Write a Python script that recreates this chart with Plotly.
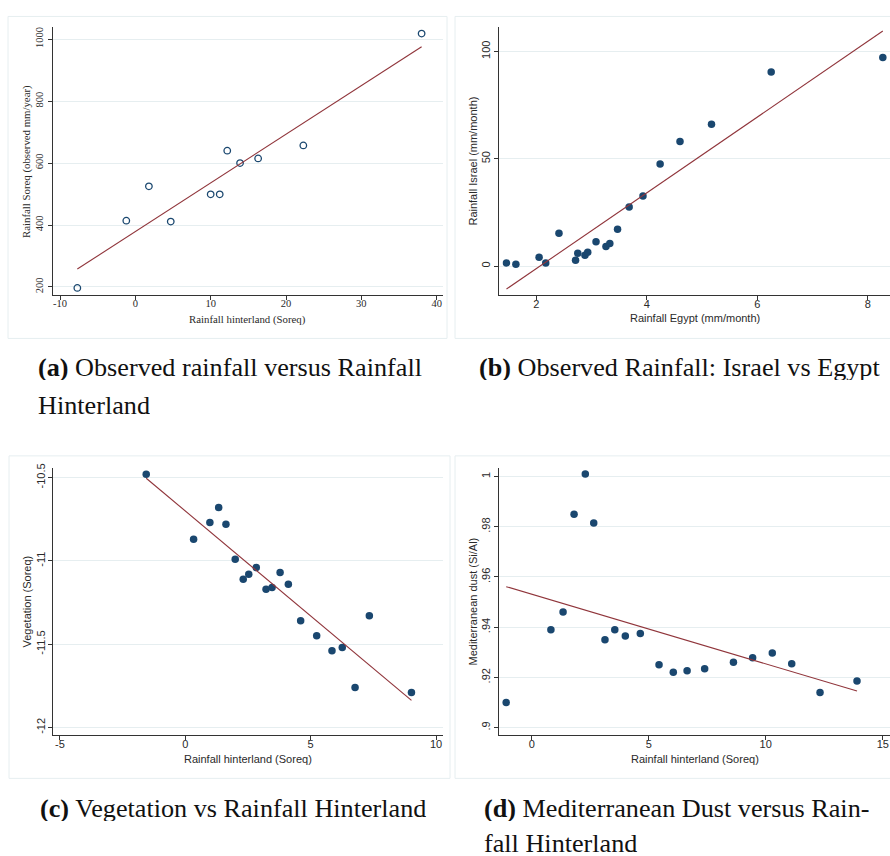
import numpy as np
import plotly.graph_objects as go

W, H = 890, 856

# ---------------- data ----------------
# (a) Observed rainfall versus Rainfall Hinterland
a_x = [-7.7, -1.2, 1.8, 4.7, 10.0, 11.2, 12.2, 13.9, 16.3, 22.3, 38.0]
a_y = [197, 414, 525, 411, 499, 499, 640, 600, 615, 657, 1018]

# (b) Observed Rainfall: Israel vs Egypt
b_x = [1.46, 1.63, 2.05, 2.17, 2.41, 2.71, 2.75, 2.88, 2.93, 3.08,
       3.26, 3.33, 3.47, 3.68, 3.93, 4.24, 4.60, 5.17, 6.25, 8.27]
b_y = [1.5, 0.9, 4.2, 1.5, 15.3, 2.8, 6.0, 5.1, 6.5, 11.4,
       9.1, 10.5, 17.2, 27.5, 32.7, 47.6, 58.1, 66.1, 90.4, 97.2]

# (c) Vegetation vs Rainfall Hinterland
c_x = [-1.56, 0.33, 0.98, 1.33, 1.62, 1.99, 2.31, 2.53, 2.83, 3.22,
       3.46, 3.78, 4.11, 4.60, 5.24, 5.85, 6.26, 6.77, 7.34, 9.02]
c_y = [-10.48, -10.87, -10.77, -10.68, -10.78, -10.99, -11.11, -11.08, -11.04, -11.17,
       -11.16, -11.07, -11.14, -11.36, -11.45, -11.54, -11.52, -11.76, -11.33, -11.79]

# (d) Mediterranean Dust versus Rainfall Hinterland
d_x = [-1.09, 0.82, 1.34, 1.81, 2.29, 2.65, 3.13, 3.55, 4.00, 4.64,
       5.44, 6.05, 6.64, 7.39, 8.62, 9.44, 10.28, 11.11, 12.32, 13.90]
d_y = [0.910, 0.939, 0.946, 0.985, 1.001, 0.9815, 0.935, 0.939, 0.9365, 0.9375,
       0.925, 0.922, 0.9226, 0.9234, 0.926, 0.9278, 0.9297, 0.9254, 0.914, 0.9186]

# ticks
a_xt = [-10, 0, 10, 20, 30, 40]
a_yt = [200, 400, 600, 800, 1000]
b_xt = [2, 4, 6, 8]
b_yt = [0, 50, 100]
c_xt = [-5, 0, 5, 10]
c_yt = [-10.5, -11, -11.5, -12]
c_ytl = ["-10.5", "-11", "-11.5", "-12"]
d_xt = [0, 5, 10, 15]
d_yt = [0.9, 0.92, 0.94, 0.96, 0.98, 1.0]
d_ytl = [".9", ".92", ".94", ".96", ".98", "1"]

NAVY = "rgb(26,71,111)"
MAROON = "rgb(144,53,59)"
GRID = "#e6eef0"
FRAME = "#e6eef0"
TXT = "#2a2a2a"
SERIF = "Liberation Serif"
SANS = "Liberation Sans"


def px_dom_x(x0, x1):
    return [x0 / W, min(x1 / W, 1.0)]


def px_dom_y(y0, y1):
    return [1 - y1 / H, 1 - y0 / H]


def fit(x, y):
    c = np.polyfit(x, y, 1)
    xs = np.array([min(x), max(x)])
    return xs, np.polyval(c, xs)


fig = go.Figure()

panels = [
    dict(x=a_x, y=a_y, xa="x", ya="y", dx=(52.7, 443), dy=(23.3, 292.7),
         xr=[-10.97, 40.84], yr=[173, 1038.6], xt=a_xt, xtl=[str(v) for v in a_xt],
         yt=a_yt, ytl=[str(v) for v in a_yt], font=SERIF, fs=10.5, sym="circle-open",
         xso=-6, yso=0),
    dict(x=b_x, y=b_y, xa="x2", ya="y2", dx=(499.3, 890), dy=(23.3, 292.3),
         xr=[1.33, 8.4], yr=[-13.4, 111.3], xt=b_xt, xtl=[str(v) for v in b_xt],
         yt=b_yt, ytl=[str(v) for v in b_yt], font=SANS, fs=11, sym="circle",
         xso=-5, yso=0),
    dict(x=c_x, y=c_y, xa="x3", ya="y3", dx=(52.7, 443.3), dy=(465.7, 734.3),
         xr=[-5.29, 10.29], yr=[-12.044, -10.44], xt=c_xt, xtl=[str(v) for v in c_xt],
         yt=c_yt, ytl=c_ytl, font=SANS, fs=11, sym="circle",
         xso=-5, yso=-2),
    dict(x=d_x, y=d_y, xa="x4", ya="y4", dx=(499.3, 890), dy=(465.7, 734),
         xr=[-1.385, 15.31], yr=[0.89723, 1.00357], xt=d_xt, xtl=[str(v) for v in d_xt],
         yt=d_yt, ytl=d_ytl, font=SANS, fs=11, sym="circle",
         xso=-5, yso=0),
]

layout_axes = {}
for i, p in enumerate(panels):
    if p["sym"] == "circle-open":
        marker = dict(symbol="circle-open", size=6.5, color=NAVY, line=dict(width=1.3, color=NAVY))
    else:
        marker = dict(symbol="circle", size=7.5, color=NAVY, line=dict(width=0))
    fig.add_trace(go.Scatter(x=p["x"], y=p["y"], mode="markers", marker=marker,
                             xaxis=p["xa"], yaxis=p["ya"], showlegend=False,
                             cliponaxis=False))
    fx, fy = fit(p["x"], p["y"])
    fig.add_trace(go.Scatter(x=fx, y=fy, mode="lines", line=dict(color=MAROON, width=1.1),
                             xaxis=p["xa"], yaxis=p["ya"], showlegend=False))
    n = "" if i == 0 else str(i + 1)
    tf = dict(family=p["font"], size=p["fs"], color=TXT)
    layout_axes["xaxis" + n] = dict(
        domain=px_dom_x(*p["dx"]), range=p["xr"], anchor="y" + n,
        tickmode="array", tickvals=p["xt"], ticktext=p["xtl"],
        showline=True, linecolor="#333", linewidth=1.3, ticks="outside", ticklen=4,
        tickcolor="#333", tickwidth=1, showgrid=False, zeroline=False, tickfont=tf,
        ticklabelstandoff=p["xso"], fixedrange=True)
    layout_axes["yaxis" + n] = dict(
        domain=px_dom_y(*p["dy"]), range=p["yr"], anchor="x" + n,
        tickmode="array", tickvals=p["yt"], ticktext=p["ytl"], tickangle=-90,
        showline=True, linecolor="#333", linewidth=1.3, ticks="outside", ticklen=4,
        tickcolor="#333", tickwidth=1, showgrid=True, gridcolor=GRID, gridwidth=1,
        zeroline=False, tickfont=tf, ticklabelstandoff=p["yso"], fixedrange=True)

annotations = []
# axis titles
titles = [
    ("Rainfall hinterland (Soreq)", 247.9, 316.7, 0, SERIF, 10.8),
    ("Rainfall Soreq (observed mm/year)", 26.7, 158, -90, SERIF, 10.8),
    ("Rainfall Egypt (mm/month)", 694.7, 315.7, 0, SANS, 11),
    ("Rainfall Israel (mm/month)", 473, 158.3, -90, SANS, 11),
    ("Rainfall hinterland (Soreq)", 247.9, 758.3, 0, SANS, 11),
    ("Vegetation (Soreq)", 27.3, 600, -90, SANS, 11),
    ("Rainfall hinterland (Soreq)", 694.7, 758.3, 0, SANS, 11),
    ("Mediterranean dust (Si/Al)", 473.3, 600, -90, SANS, 11),
]
for t, x, y, ang, fam, fs in titles:
    annotations.append(dict(text=t, x=x / W, y=1 - y / H, xref="paper", yref="paper",
                            xanchor="center", yanchor="middle", showarrow=False,
                            textangle=ang, font=dict(family=fam, size=fs, color=TXT)))

# captions
caps = [
    ("<b>(a)</b> Observed rainfall versus Rainfall", 36, 373),
    ("Hinterland", 36, 411),
    ("<b>(b)</b> Observed Rainfall: Israel vs Egypt", 476.7, 373),
    ("<b>(c)</b> Vegetation vs Rainfall Hinterland", 38, 816),
    ("<b>(d)</b> Mediterranean Dust versus Rain-", 481.7, 816),
    ("fall Hinterland", 481.7, 851),
]
for t, x, yb in caps:
    annotations.append(dict(text=t, x=x / W, y=1 - (yb - 8) / H, xref="paper", yref="paper",
                            xanchor="left", yanchor="middle", showarrow=False,
                            height=26, valign="middle",
                            font=dict(family=SERIF, size=26.2, color="#111")))

shapes = []
frames = [(8, 12.5, 447, 336), (455, 12.5, 900, 336), (9, 454, 450, 778), (455, 454, 900, 778)]
for x0, y0, x1, y1 in frames:
    shapes.append(dict(type="rect", xref="paper", yref="paper", x0=x0 / W, x1=x1 / W,
                       y0=1 - y1 / H, y1=1 - y0 / H, line=dict(color=FRAME, width=1),
                       fillcolor="rgba(0,0,0,0)", layer="below"))

fig.update_layout(width=W, height=H, margin=dict(l=0, r=0, t=0, b=0),
                  paper_bgcolor="white", plot_bgcolor="white", showlegend=False,
                  annotations=annotations, shapes=shapes, **layout_axes)

fig.write_html("out.html", config={"displayModeBar": False},
               post_script="document.body.style.margin='0px';"
                           "document.body.style.padding='0px';"
                           "document.body.style.overflow='hidden';"
                           "document.documentElement.style.overflow='hidden';")
